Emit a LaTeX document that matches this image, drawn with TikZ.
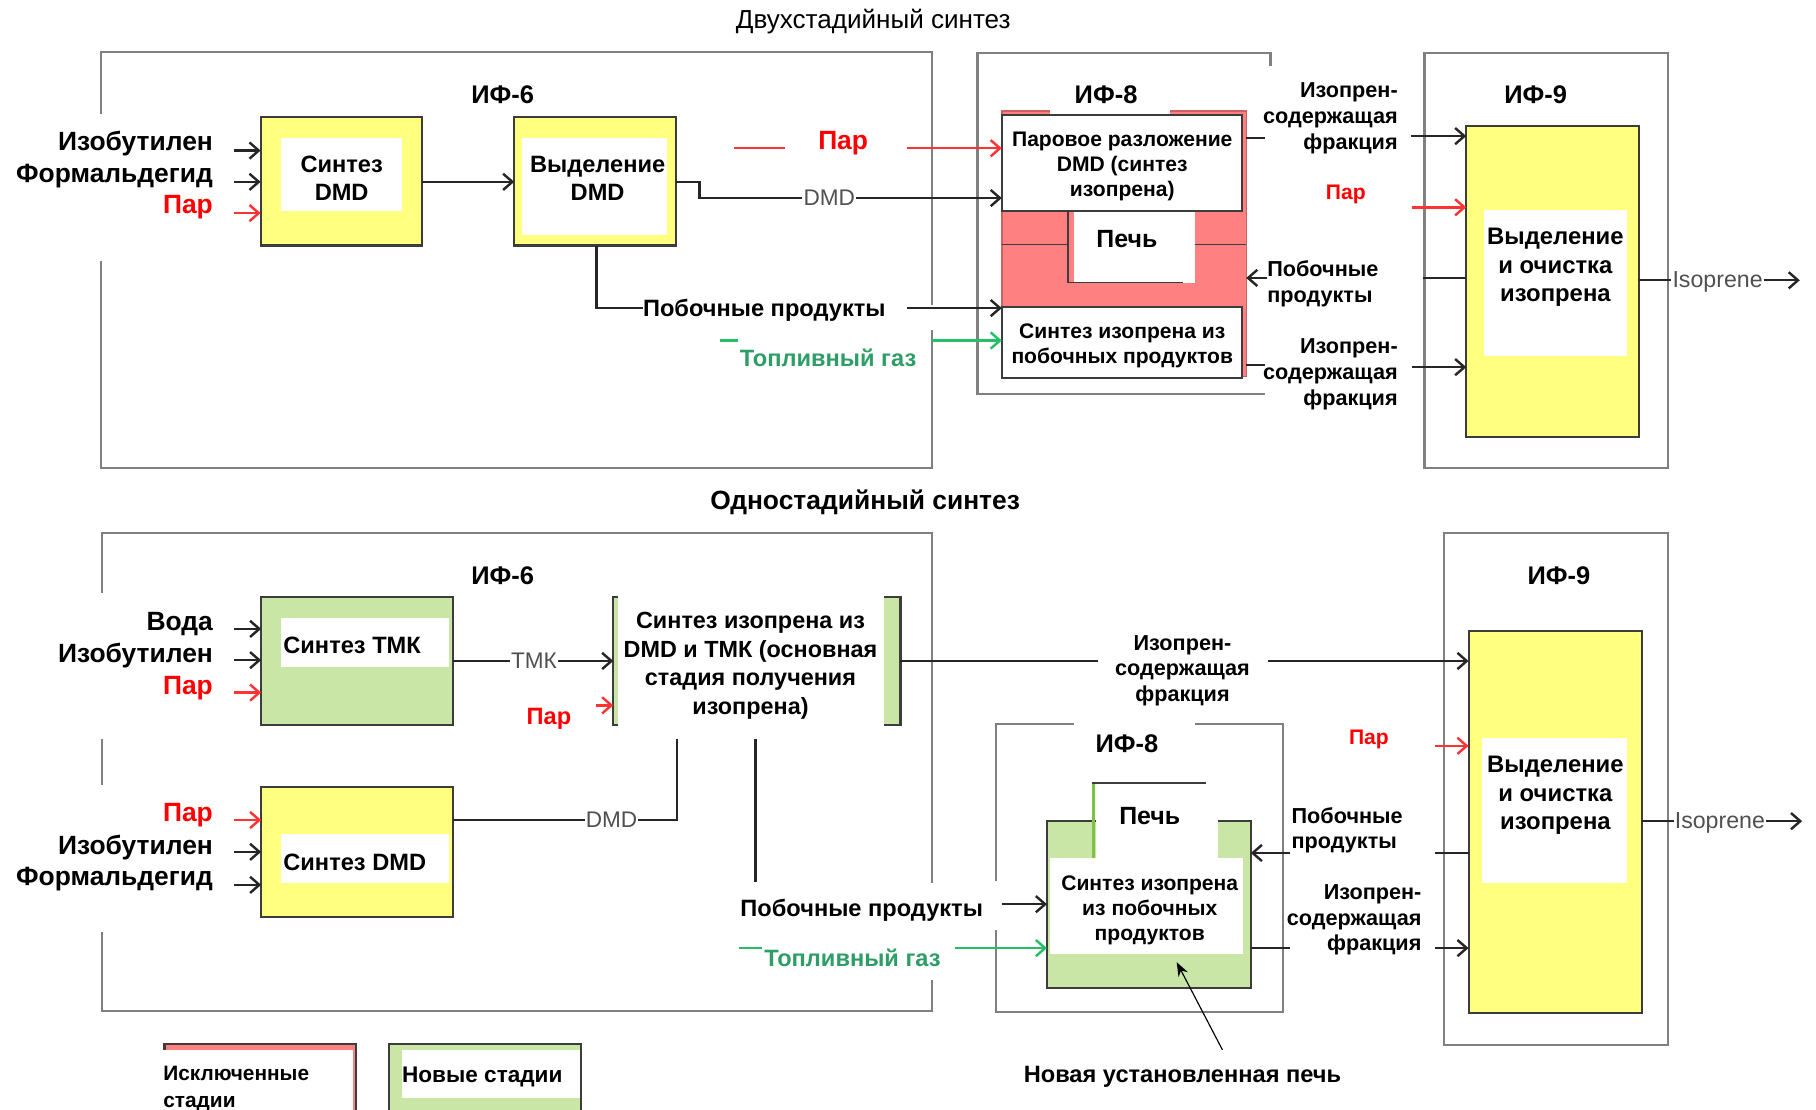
\documentclass[tikz,border=0pt]{standalone}
\usepackage{fontspec}
\setmainfont{Liberation Sans}
\usetikzlibrary{arrows.meta}
\definecolor{ylw}{HTML}{FFFF80}
\definecolor{pnk}{HTML}{FF8080}
\definecolor{pnkd}{HTML}{D06060}
\definecolor{lgr}{HTML}{C9E6A6}
\definecolor{tabgr}{HTML}{7DC242}
\definecolor{gtxt}{HTML}{2E9E66}
\definecolor{garrc}{HTML}{25BF6A}
\definecolor{rtxt}{HTML}{FF0000}
\definecolor{rarrc}{HTML}{FF3333}
\definecolor{graytxt}{HTML}{505050}
\definecolor{outg}{HTML}{808080}
\definecolor{bord}{HTML}{3C3C3C}
\tikzset{
  outer/.style={draw=outg, line width=2pt},
  stage/.style={draw=bord, line width=1.8pt, inner sep=0pt, outer sep=0pt, anchor=north west},
  conn/.style={draw=black!85, line width=2.1pt},
  arr/.style={conn, -{Straight Barb[length=8pt,width=14pt]}},
  rarr/.style={arr, draw=rarrc},
  garr/.style={arr, draw=garrc},
  txt/.style={inner sep=0pt, yshift=-1.8pt},
  t23/.style={txt, font=\fontsize{22.8}{27}\selectfont\bfseries},
  t22/.style={txt, font=\fontsize{22}{26}\selectfont\bfseries},
  t21/.style={txt, font=\fontsize{21.5}{25}\selectfont\bfseries},
  t20/.style={txt, font=\fontsize{20.4}{24}\selectfont\bfseries},
  t20b/.style={txt, font=\fontsize{20.2}{24.6}\selectfont\bfseries},
  t205/.style={txt, font=\fontsize{20.6}{24.4}\selectfont\bfseries},
  t19/.style={txt, font=\fontsize{18.7}{22.5}\selectfont\bfseries},
  t185/.style={txt, font=\fontsize{18.7}{22}\selectfont\bfseries},
  t18/.style={txt, font=\fontsize{18.2}{21.6}\selectfont\bfseries},
  glbl/.style={font=\fontsize{19.5}{22}\selectfont, text=graytxt, fill=white, inner sep=1pt},
}
\begin{document}
\begin{tikzpicture}[x=1pt,y=-1pt]
\useasboundingbox (0,0) rectangle (1568,958);
\clip (0,0) rectangle (1568,958);
\fill[white] (0,0) rectangle (1568,958);

% ---------- titles
\node[txt, font=\fontsize{22.5}{26}\selectfont] (title1) at (754,17) {Двухстадийный синтез};
\node[txt, font=\fontsize{22.8}{26}\selectfont\bfseries] (title2) at (747,432) {Одностадийный синтез};

% ---------- outer frames
\draw[outer] (87,45) rectangle (805,404);
\fill[white] (80,98) rectangle (95,225);
\fill[white] (798,263) rectangle (812,285);
\draw[outer] (1092,340) -- (844,340) -- (844,46) -- (1097,46) -- (1097,57);
\draw[outer] (1230,46) rectangle (1440,404);

\draw[outer] (88,460) rectangle (805,873);
\fill[white] (80,512) rectangle (96,638);
\fill[white] (80,678) rectangle (96,805);
\fill[white] (798,762) rectangle (812,846);
\draw[outer] (860,625) rectangle (1108,874);
\fill[white] (927,618) rectangle (1032,632);
\fill[white] (853,761) rectangle (867,803);
\draw[outer] (1247,460) rectangle (1440,902);

% ---------- frame labels
\node[t22] (if6a) at (434,80) {ИФ-6};
\node[t22] (if8a) at (955,80) {ИФ-8};
\node[t22] (if9a) at (1326,80) {ИФ-9};
\node[t22] (if6b) at (434,495) {ИФ-6};
\node[t22] (if8b) at (973,640) {ИФ-8};
\node[t22] (if9b) at (1346,495) {ИФ-9};

% ================= TOP: two-stage =================
\node[stage, fill=ylw, minimum width=139pt, minimum height=111pt] (sdmd1) at (225,101) {};
\fill[white] (243,119) rectangle (347,182);
\node[t20, align=center] (sdmd1t) at (295,152) {Синтез\\DMD};

\node[stage, fill=ylw, minimum width=140pt, minimum height=111pt] (vd1) at (444,101) {};
\fill[white] (451,119) rectangle (576,203);
\node[t20, align=center] (vd1t) at (516,152.5) {Выделение\\DMD};

% IF-8 (excluded stages)
\node[stage, draw=pnkd, line width=1.2pt, fill=pnk, minimum width=211pt, minimum height=229pt] (red8) at (865,96) {};
\fill[white] (907,90) rectangle (1010,99);
\fill[white] (927,182) rectangle (1032,244);
\draw[draw=bord, line width=1.5pt] (865,211) -- (922,211);
\draw[draw=bord, line width=1.5pt] (922,182) -- (922,244) -- (1021,244);
\draw[draw=bord, line width=1.5pt] (1032,211) -- (1076,211);
\node[t21] (pech1) at (973,205) {Печь};
\node[stage, fill=white, minimum width=207pt, minimum height=83pt] (par8) at (865,99) {};
\node[t18, align=center] (par8t) at (969,142) {Паровое разложение\\DMD (синтез\\изопрена)};
\node[stage, fill=white, minimum width=207pt, minimum height=61pt] (syn8) at (865,265) {};
\node[t18, align=center] (syn8t) at (969,297) {Синтез изопрена из\\побочных продуктов};

% IF-9
\node[stage, fill=ylw, minimum width=149pt, minimum height=268pt] (y9a) at (1266,109) {};
\fill[white] (1281,181) rectangle (1405,307);
\node[t205, align=center] (y9at) at (1343,229) {Выделение\\и очистка\\изопрена};

% inputs
\node[t23, anchor=east] (in1) at (184,122) {Изобутилен};
\node[t23, anchor=east] (in2) at (184,150) {Формальдегид};
\node[t23, anchor=east, text=rtxt] (in3) at (184,177) {Пар};
\draw[arr] (202,130) -- (sdmd1.west |- 0,130);
\draw[arr] (202,157) -- (sdmd1.west |- 0,157);
\draw[rarr] (202,184) -- (sdmd1.west |- 0,184);
\draw[arr] (sdmd1.east |- 0,157) -- (vd1.west |- 0,157);

% DMD to IF-8
\draw[arr] (vd1.east |- 0,157) -- (604,157) -- (604,171) -- (par8.west |- 0,171);
\node[glbl] (dmd1) at (716,171) {DMD};

% by-products from separation
\node[t20, anchor=west] (bp1) at (555,266) {Побочные продукты};
\draw[conn] (515,212) -- (515,266) -- (555,266);
\draw[arr] (783,266) -- (syn8.west |- 0,266);

% steam to IF-8
\draw[draw=rarrc, line width=2.1pt] (634,128) -- (678,128);
\node[t23, text=rtxt] (par1) at (728,122) {Пар};
\draw[rarr] (783,128) -- (par8.west |- 0,128);

% fuel gas
\draw[draw=garrc, line width=2.1pt] (622,294) -- (637,294);
\node[t20, text=gtxt] (fg1) at (715,307) {Топливный газ};
\draw[garr] (805,294) -- (syn8.west |- 0,294);

% IF-8 -> IF-9
\draw[conn] (red8.east |- 0,119) -- (1092,119);
\draw[conn] (red8.east |- 0,315) -- (1092,315);
\node[t19, anchor=east, align=right] (frac1) at (1207,100) {Изопрен-\\содержащая\\фракция};
\node[t19, anchor=east, align=right] (frac2) at (1207,321) {Изопрен-\\содержащая\\фракция};
\draw[arr] (1218,117.5) -- (y9a.west |- 0,117.5);
\draw[arr] (1219,317) -- (y9a.west |- 0,317);
\node[t18, text=rtxt] (par2) at (1162,166) {Пар};
\draw[rarr] (1219,179) -- (y9a.west |- 0,179);
\node[t19, anchor=west, align=left] (bp2) at (1094,243.5) {Побочные\\продукты};
\draw[arr] (1094,240) -- (red8.east |- 0,240);
\draw[conn] (1229,240) -- (y9a.west |- 0,240);

% isoprene out
\node[txt, font=\fontsize{20}{24}\selectfont, text=graytxt] (iso1) at (1483,242) {Isoprene};
\draw[conn] (y9a.east |- 0,242) -- (1443,242);
\draw[arr] (1523,242) -- (1554,242);

% ================= BOTTOM: one-stage =================
\node[stage, fill=lgr, minimum width=165.8pt, minimum height=110.4pt] (tmk) at (225.5,515.6) {};
\fill[white] (243,534) rectangle (388,576);
\node[t20, anchor=west] (tmkt) at (244.5,555) {Синтез ТМК};

\node[stage, fill=lgr, minimum width=248pt, minimum height=110.5pt] (sis) at (529.5,515.5) {};
\fill[white] (534,511) rectangle (763,629);
\node[t20b, align=center] (sist) at (648,573) {Синтез изопрена из\\DMD и ТМК (основная\\стадия получения\\изопрена)};

\node[stage, fill=ylw, minimum width=165.8pt, minimum height=112.3pt] (sdmd2) at (225.5,679.3) {};
\fill[white] (243,720) rectangle (388,762);
\node[t20, anchor=west] (sdmd2t) at (244.5,742.7) {Синтез DMD};

% inputs TMK
\node[t23, anchor=east] (w1) at (184,537) {Вода};
\node[t23, anchor=east] (w2) at (184,564) {Изобутилен};
\node[t23, anchor=east, text=rtxt] (w3) at (184,592) {Пар};
\draw[arr] (202,543) -- (tmk.west |- 0,543);
\draw[arr] (202,570) -- (tmk.west |- 0,570);
\draw[rarr] (202,598) -- (tmk.west |- 0,598);

% inputs DMD
\node[t23, anchor=east, text=rtxt] (d1) at (184,702) {Пар};
\node[t23, anchor=east] (d2) at (184,730) {Изобутилен};
\node[t23, anchor=east] (d3) at (184,757) {Формальдегид};
\draw[rarr] (202,708) -- (sdmd2.west |- 0,708);
\draw[arr] (202,735.5) -- (sdmd2.west |- 0,735.5);
\draw[arr] (202,764) -- (sdmd2.west |- 0,764);

% TMK -> synthesis
\draw[arr] (tmk.east |- 0,570.7) -- (sis.west |- 0,570.7);
\node[glbl] (tmkl) at (461,570.7) {ТМК};
\node[t20, text=rtxt] (par3) at (474,619) {Пар};
\draw[rarr] (514.6,609) -- (sis.west |- 0,609);

% DMD -> synthesis
\draw[conn] (sdmd2.east |- 0,708) -- (584.3,708) -- (584.3,638);
\node[glbl] (dmd2) at (528,708) {DMD};
\draw[conn] (652.5,638) -- (652.5,761.5);

% by-products and fuel to new furnace
\node[t20] (bp3) at (744,784) {Побочные продукты};
\node[t20, text=gtxt] (fg2) at (736,825.6) {Топливный газ};
\draw[draw=garrc, line width=2.1pt] (638,818.6) -- (658,818.6);

% IF-8 new furnace
\node[stage, fill=lgr, minimum width=176pt, minimum height=144.3pt] (f8) at (904,708.7) {};
\fill[white] (946,678) rectangle (1052,741);
\draw[draw=tabgr, line width=3pt] (944,741) -- (944,677);
\draw[draw=bord, line width=1.8pt] (942.5,676.3) -- (1041.5,676.3);
\fill[white] (907,741) rectangle (1073,824);
\node[t21] (pech2) at (992.7,702.5) {Печь};
\node[t18, align=center] (f8t) at (992.7,784.3) {Синтез изопрена\\из побочных\\продуктов};
\draw[arr] (865.5,780.7) -- (f8.west |- 0,780.7);
\draw[garr] (824.4,818.6) -- (f8.west |- 0,818.6);

\node[t20] (newf) at (1021,928) {Новая установленная печь};
\draw[-{Stealth[length=12pt,width=9pt]}, line width=1pt] (1055.5,906.5) -- (1016,830.8);

% synthesis -> IF-9
\node[t185, align=center] (frac3) at (1021,577) {Изопрен-\\содержащая\\фракция};
\draw[conn] (sis.east |- 0,570.7) -- (948,570.7);

% IF-9 bottom
\node[stage, fill=ylw, minimum width=150pt, minimum height=329.4pt] (y9b) at (1268,545) {};
\fill[white] (1280,637) rectangle (1405,762);
\node[t205, align=center] (y9bt) at (1343,685) {Выделение\\и очистка\\изопрена};
\draw[arr] (1094.7,570.7) -- (y9b.west |- 0,570.7);

\node[t18, text=rtxt] (par4) at (1182,637) {Пар};
\draw[rarr] (1239,644) -- (y9b.west |- 0,644);
\node[t185, anchor=west, align=left] (bp4) at (1115,715) {Побочные\\продукты};
\draw[arr] (1113.7,736.5) -- (f8.east |- 0,736.5);
\draw[conn] (1239,736.5) -- (y9b.west |- 0,736.5);
\node[t185, anchor=east, align=right] (frac4) at (1227.5,792.6) {Изопрен-\\содержащая\\фракция};
\draw[conn] (f8.east |- 0,818.6) -- (1113.7,818.6);
\draw[arr] (1239,818.6) -- (y9b.west |- 0,818.6);

\node[txt, font=\fontsize{20}{24}\selectfont, text=graytxt] (iso2) at (1485,709) {Isoprene};
\draw[conn] (y9b.east |- 0,709) -- (1445,709);
\draw[arr] (1525,709) -- (1556,709);

% ================= legend =================
\node[stage, fill=pnk, minimum width=165pt, minimum height=80pt] (legr) at (142,901.6) {};
\fill[white] (138,906.7) rectangle (305,975);
\node[txt, font=\fontsize{18}{23.4}\selectfont\bfseries, anchor=west, align=left] (legrt) at (140.8,938.3) {Исключенные\\стадии};
\node[stage, fill=lgr, minimum width=166pt, minimum height=80pt] (legg) at (336,901.6) {};
\fill[white] (346.8,906.7) rectangle (501,948);
\node[txt, font=\fontsize{19.5}{23}\selectfont\bfseries, anchor=west] (leggt) at (347,928) {Новые стадии};
\end{tikzpicture}
\end{document}
